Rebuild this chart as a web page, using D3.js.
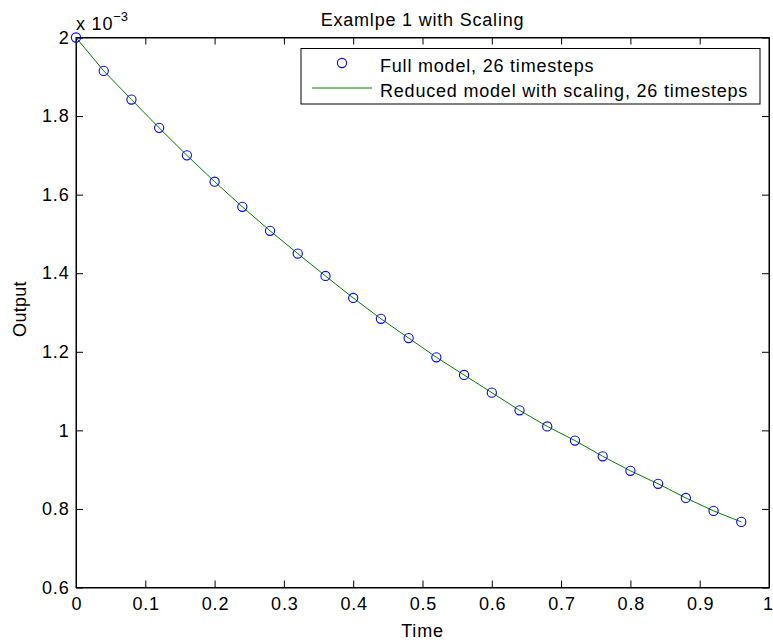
<!DOCTYPE html>
<html>
<head>
<meta charset="utf-8">
<script src="https://cdn.jsdelivr.net/npm/d3@7"></script>
<style>
  html, body { margin: 0; padding: 0; background: #fff; }
  svg { display: block; font-family: "Liberation Sans", Arial, Helvetica, sans-serif; }
</style>
</head>
<body>
<svg id="chart" width="773" height="642"></svg>
<script>
// ---- data ----
const time = [0, 0.04, 0.08, 0.12, 0.16, 0.20, 0.24, 0.28, 0.32, 0.36, 0.40, 0.44, 0.48,
              0.52, 0.56, 0.60, 0.64, 0.68, 0.72, 0.76, 0.80, 0.84, 0.88, 0.92, 0.96];
// values in units of 1e-3
const fullModel = [2.000, 1.915, 1.842, 1.770, 1.700, 1.633, 1.569, 1.508, 1.450, 1.393,
                   1.337, 1.284, 1.235, 1.186, 1.141, 1.096, 1.051, 1.010, 0.974, 0.934,
                   0.897, 0.864, 0.828, 0.795, 0.767];
const reducedModel = [2.000, 1.915, 1.842, 1.770, 1.700, 1.633, 1.569, 1.508, 1.450, 1.393,
                      1.337, 1.284, 1.235, 1.186, 1.141, 1.096, 1.051, 1.010, 0.974, 0.934,
                      0.897, 0.864, 0.828, 0.795, 0.767];
const xTicks = [0, 0.1, 0.2, 0.3, 0.4, 0.5, 0.6, 0.7, 0.8, 0.9, 1];
const yTicks = [0.6, 0.8, 1, 1.2, 1.4, 1.6, 1.8, 2];
const title = "Examlpe 1 with Scaling";
const xLabel = "Time";
const yLabel = "Output";
const legendLabels = ["Full model, 26 timesteps", "Reduced model with scaling, 26 timesteps"];

// ---- layout ----
const L = 76, R = 769, T = 37.5, B = 587.5;
const svg = d3.select("#chart");
const x = d3.scaleLinear().domain([0, 1]).range([L, R]);
const y = d3.scaleLinear().domain([0.6, 2]).range([B, T]);
const fs = 18;
const ls = 0.8;
const tickLen = 7;

// axes
const fmt = d => String(d);
const gBottom = svg.append("g").attr("transform", `translate(0,${B})`)
  .call(d3.axisBottom(x).tickValues(xTicks).tickFormat(fmt).tickSizeInner(-tickLen).tickSizeOuter(0).tickPadding(9.5));
const gTop = svg.append("g").attr("transform", `translate(0,${T})`)
  .call(d3.axisTop(x).tickValues(xTicks).tickFormat("").tickSizeInner(-tickLen).tickSizeOuter(0));
const gLeft = svg.append("g").attr("transform", `translate(${L},0)`)
  .call(d3.axisLeft(y).tickValues(yTicks).tickFormat(fmt).tickSizeInner(-tickLen).tickSizeOuter(0).tickPadding(6.5));
const gRight = svg.append("g").attr("transform", `translate(${R},0)`)
  .call(d3.axisRight(y).tickValues(yTicks).tickFormat("").tickSizeInner(-tickLen).tickSizeOuter(0));

[gBottom, gTop, gLeft, gRight].forEach(g => {
  g.select(".domain").attr("stroke", "#000").attr("stroke-width", 1);
  g.selectAll(".tick line").attr("stroke", "#000").attr("stroke-width", 1);
  g.selectAll("text").attr("font-size", fs).attr("fill", "#000").attr("letter-spacing", ls)
    .attr("font-family", "'Liberation Sans', Arial, sans-serif");
});
gBottom.selectAll("text").attr("dy", "0.71em").attr("dx", ls / 2);
// keep the last tick label ("1") inside the picture, as at the reference's right edge
gBottom.selectAll(".tick").filter(d => d === 1).select("text")
  .attr("text-anchor", "end").attr("x", 3.5).attr("dx", 0).attr("letter-spacing", 0);

// box edges
svg.append("rect").attr("x", L).attr("y", T).attr("width", R - L).attr("height", B - T)
  .attr("fill", "none").attr("stroke", "#000").attr("stroke-width", 1);

// exponent label
const exp = svg.append("text").attr("x", L).attr("y", 30).attr("font-size", fs)
  .attr("letter-spacing", ls).attr("fill", "#000");
exp.append("tspan").text("x 10");
exp.append("tspan").attr("dy", -9.5).attr("font-size", 13).attr("letter-spacing", 0).text("\u22123");

// line
const line = d3.line().x((d, i) => x(time[i])).y(d => y(d));
svg.append("path").datum(reducedModel).attr("d", line)
  .attr("fill", "none").attr("stroke", "#008000").attr("stroke-width", 1);

// markers
svg.append("g").selectAll("circle").data(fullModel).join("circle")
  .attr("cx", (d, i) => x(time[i])).attr("cy", d => y(d)).attr("r", 4.6)
  .attr("fill", "none").attr("stroke", "#0000ff").attr("stroke-width", 1.1);

// title & labels
svg.append("text").attr("x", (L + R) / 2).attr("y", 26).attr("text-anchor", "middle")
  .attr("font-size", fs).attr("letter-spacing", ls).attr("fill", "#000").text(title);
svg.append("text").attr("x", (L + R) / 2).attr("y", 636.5).attr("text-anchor", "middle")
  .attr("font-size", fs).attr("letter-spacing", ls).attr("fill", "#000").text(xLabel);
svg.append("text").attr("transform", `translate(26,309) rotate(-90)`)
  .attr("text-anchor", "middle").attr("font-size", fs).attr("letter-spacing", 0.3)
  .attr("fill", "#000").text(yLabel);

// legend
const lg = svg.append("g");
lg.append("rect").attr("x", 301).attr("y", 48.5).attr("width", 459).attr("height", 55.5)
  .attr("fill", "#fff").attr("stroke", "#000").attr("stroke-width", 1);
lg.append("circle").attr("cx", 342).attr("cy", 63).attr("r", 4.6)
  .attr("fill", "none").attr("stroke", "#0000ff").attr("stroke-width", 1.1);
lg.append("line").attr("x1", 312).attr("x2", 372).attr("y1", 88).attr("y2", 88)
  .attr("stroke", "#008000").attr("stroke-width", 1);
lg.append("text").attr("x", 380).attr("y", 71.5).attr("font-size", fs).attr("letter-spacing", ls)
  .attr("fill", "#000").text(legendLabels[0]);
lg.append("text").attr("x", 380).attr("y", 96.5).attr("font-size", fs).attr("letter-spacing", ls)
  .attr("fill", "#000").text(legendLabels[1]);
</script>
</body>
</html>
